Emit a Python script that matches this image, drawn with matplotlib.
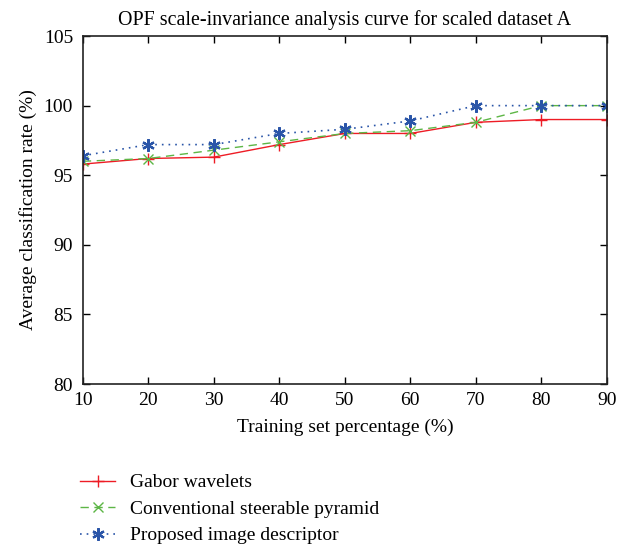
import matplotlib
matplotlib.use("Agg")
import matplotlib.pyplot as plt

plt.rcParams['font.family'] = ['Liberation Serif', 'DejaVu Serif']
plt.rcParams['font.size'] = 13

# data
train_pct = [10, 20, 30, 40, 50, 60, 70, 80, 90]
gabor = [95.8, 96.2, 96.3, 97.2, 98.0, 98.0, 98.8, 99.0, 99.0]
steerable = [96.0, 96.2, 96.8, 97.4, 98.0, 98.2, 98.8, 100.0, 100.0]
proposed = [96.4, 97.2, 97.2, 98.0, 98.3, 98.9, 100.0, 100.0, 100.0]
labels = ["Gabor wavelets", "Conventional steerable pyramid", "Proposed image descriptor"]

fig = plt.figure(figsize=(6.18, 5.45), dpi=100)
ax = fig.add_axes([0.134, 0.2954, 0.848, 0.6385])

ax.plot(train_pct, gabor, color='#ee1c25', linestyle='-', linewidth=1.0,
        marker='+', markersize=8, markeredgewidth=1.0, label=labels[0])
ax.plot(train_pct, steerable, color='#5db646', linestyle=(0, (6, 4)), linewidth=1.0,
        marker='x', markersize=7, markeredgewidth=1.0, label=labels[1])
ax.plot(train_pct, proposed, color='#2a55a8', linestyle=(0, (1, 3)), linewidth=1.2,
        marker=(6, 2, 0), markersize=9, markeredgewidth=1.6, label=labels[2])

ax.set_xlim(10, 90)
ax.set_ylim(80, 105)
ax.set_xticks(train_pct)
ax.set_yticks([80, 85, 90, 95, 100, 105])
ax.tick_params(direction='in', top=True, right=True, length=5, width=1, labelsize=14)
ax.tick_params(axis='x', pad=6)
ax.tick_params(axis='y', pad=7)
for s in ax.spines.values():
    s.set_linewidth(1.2)
    s.set_color('#222222')

ax.set_title("OPF scale-invariance analysis curve for scaled dataset A", fontsize=14.4, pad=8)
ax.set_xlabel("Training set percentage (%)", fontsize=14, labelpad=7)
ax.set_ylabel("Average classification rate (%)", fontsize=14, labelpad=5)

fig.legend(loc='upper left', bbox_to_anchor=(0.117, 0.145), bbox_transform=fig.transFigure,
           frameon=False, fontsize=14, handlelength=1.8, handletextpad=0.77,
           labelspacing=0.46, borderaxespad=0)

fig.savefig("out.png", dpi=100)
